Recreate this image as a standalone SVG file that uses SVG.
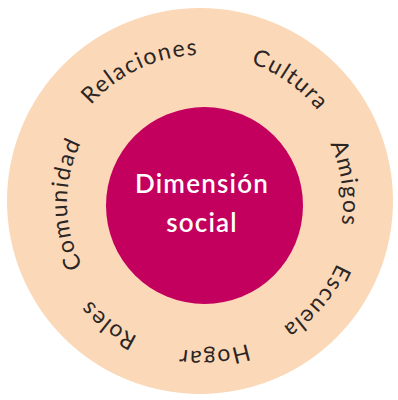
<svg xmlns="http://www.w3.org/2000/svg" width="398" height="400" viewBox="0 0 398 400">
<style>
.ring{font-family:Lato,"Open Sans","DejaVu Sans",sans-serif;font-size:23px;fill:#2b2523;letter-spacing:1.5px}
.center{font-family:Lato,"Open Sans","DejaVu Sans",sans-serif;font-size:26px;font-weight:600;fill:#ffffff;letter-spacing:1.2px}
</style>
<defs>
<path id="pRel" d="M59.04,241.30 A148,148 0 0 1 323.24,118.11"/>
<path id="pCul" d="M98.44,97.25 A148,148 0 0 1 335.47,266.95"/>
<path id="pAmi" d="M207.41,62.10 A141,141 0 0 1 245.10,337.25"/>
<path id="pEsc" d="M316.52,109.26 A148,148 0 0 1 126.45,330.27"/>
<path id="pHog" d="M349.32,217.18 A148,148 0 0 1 58.72,240.06"/>
<path id="pRol" d="M301.80,312.30 A148,148 0 0 1 70.84,134.43"/>
<path id="pCom" d="M179.72,336.15 A135,135 0 0 1 177.40,70.25"/>
</defs>
<g id="outer"><circle cx="200" cy="201" r="193" fill="#FBD8B8"/></g>
<g id="connectors"></g>
<g id="core">
<circle cx="204.5" cy="205.5" r="98.5" fill="#C4005F"/>
<text class="center" x="202" y="193" text-anchor="middle">Dimensión</text>
<text class="center" x="202" y="232" text-anchor="middle">social</text>
</g>
<g id="relaciones"><text class="ring"><textPath href="#pRel" startOffset="50%" text-anchor="middle">Relaciones</textPath></text></g>
<g id="cultura"><text class="ring"><textPath href="#pCul" startOffset="50%" text-anchor="middle">Cultura</textPath></text></g>
<g id="amigos"><text class="ring"><textPath href="#pAmi" startOffset="50%" text-anchor="middle">Amigos</textPath></text></g>
<g id="escuela"><text class="ring"><textPath href="#pEsc" startOffset="50%" text-anchor="middle">Escuela</textPath></text></g>
<g id="hogar"><text class="ring"><textPath href="#pHog" startOffset="50%" text-anchor="middle">Hogar</textPath></text></g>
<g id="roles"><text class="ring"><textPath href="#pRol" startOffset="50%" text-anchor="middle">Roles</textPath></text></g>
<g id="comunidad"><text class="ring"><textPath href="#pCom" startOffset="50%" text-anchor="middle">Comunidad</textPath></text></g>
</svg>
